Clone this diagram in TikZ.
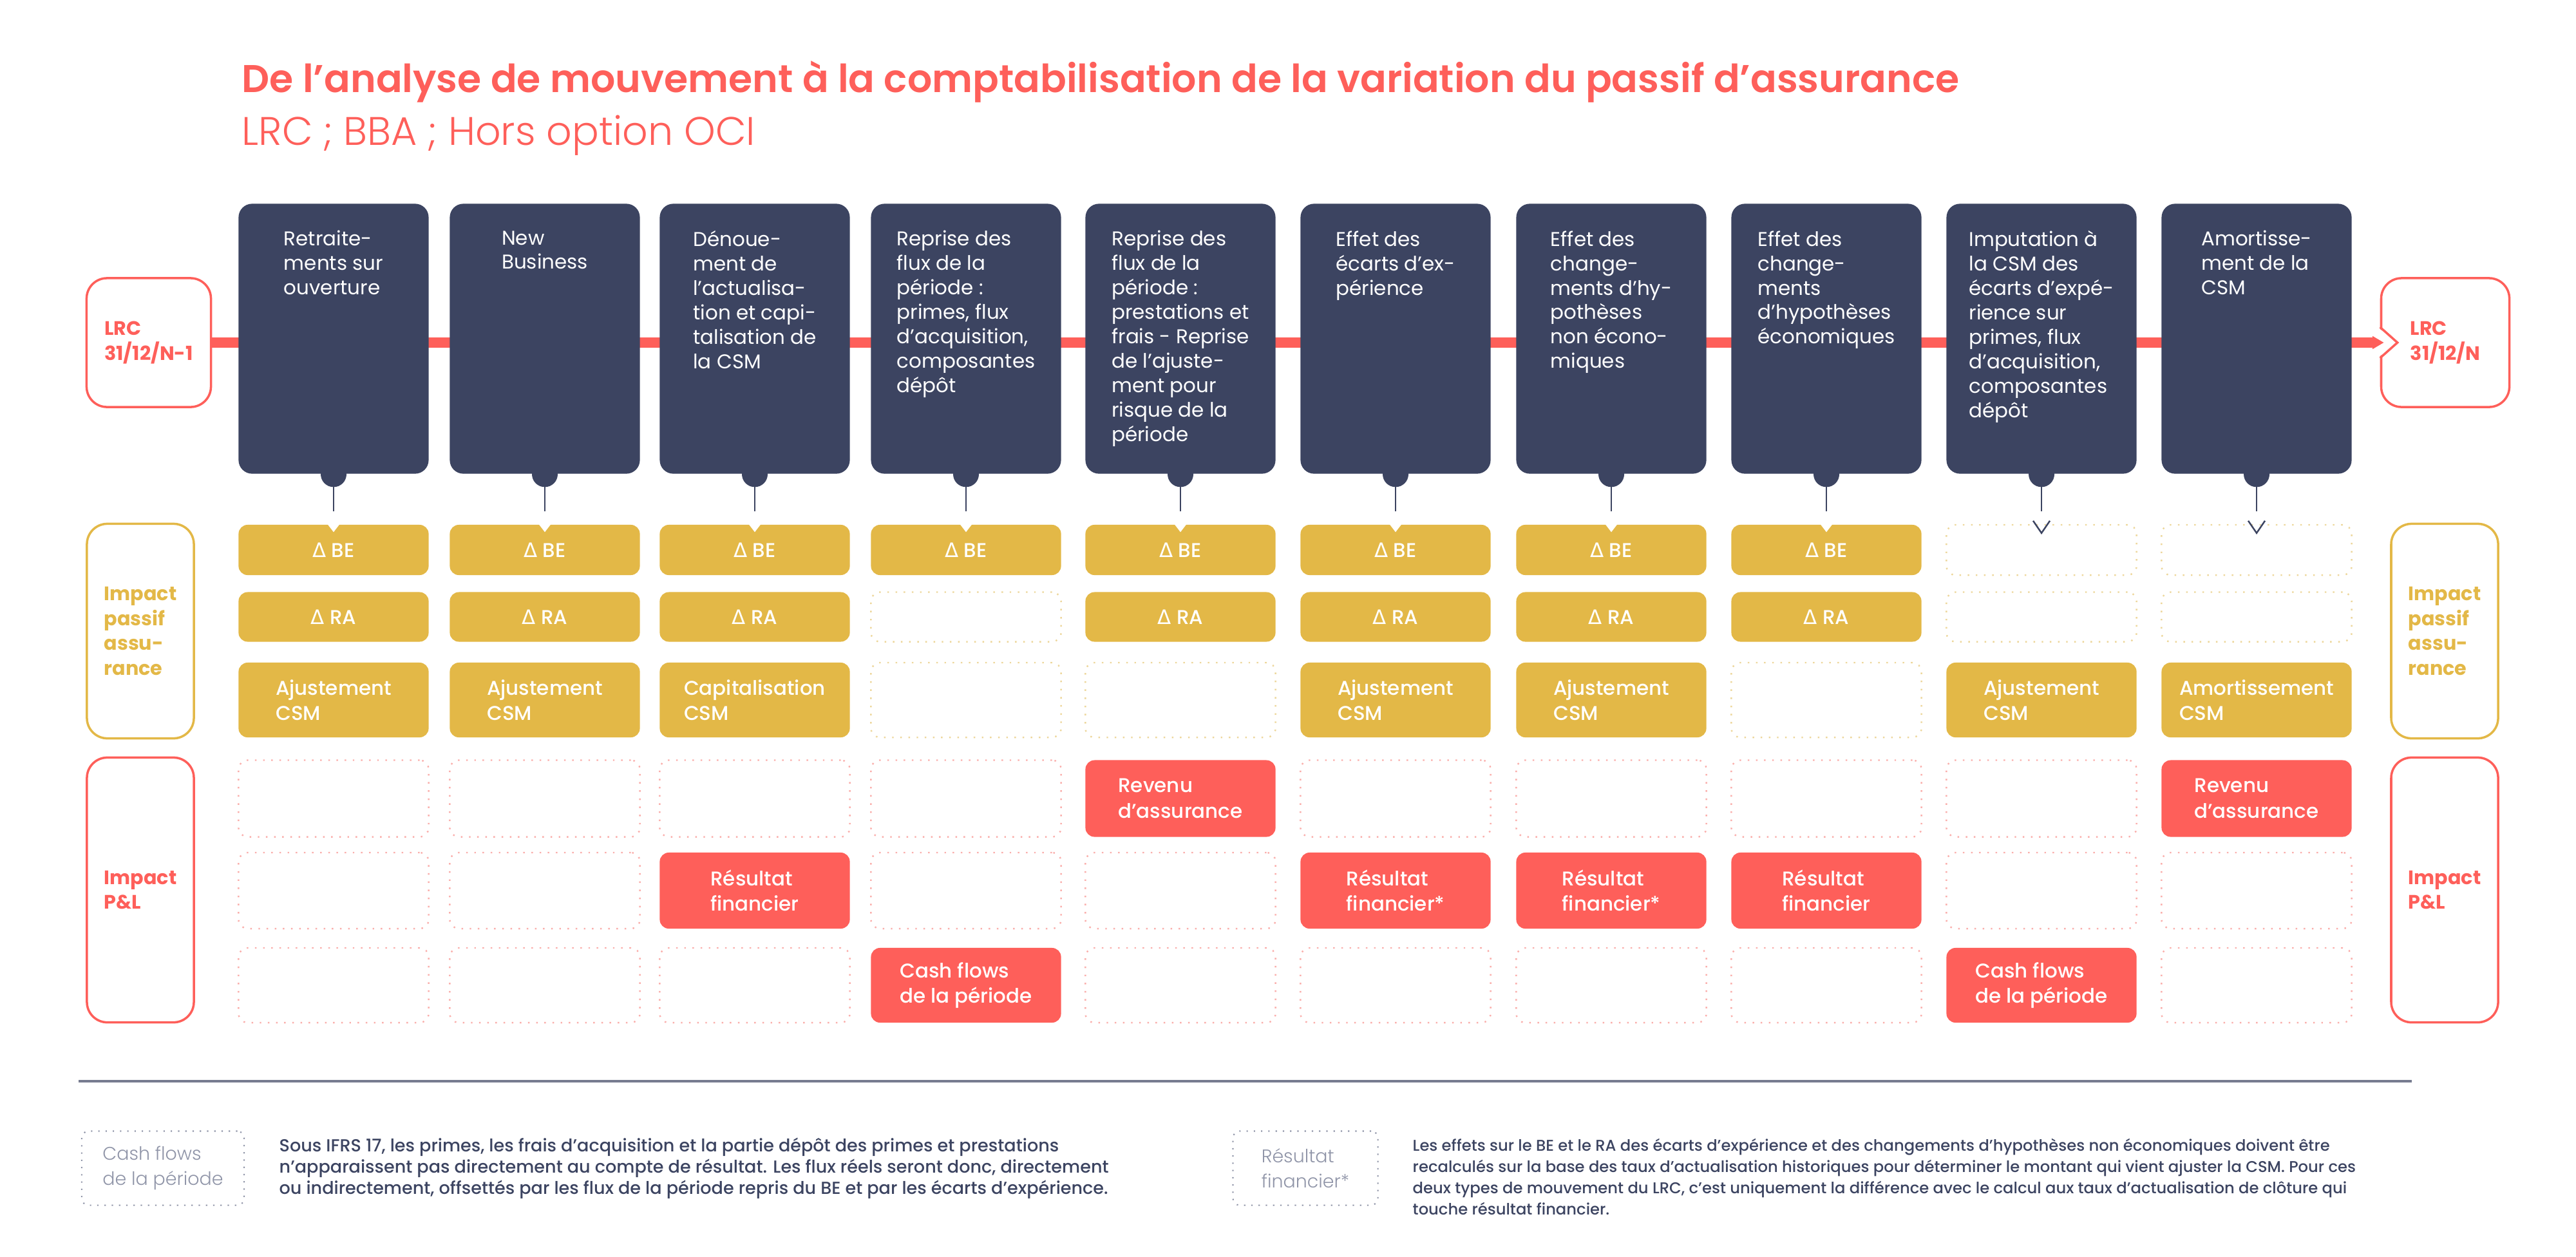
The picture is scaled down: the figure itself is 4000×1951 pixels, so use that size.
\documentclass[tikz,border=0pt]{standalone}
\usepackage{fontspec}
\setmainfont{Poppins}
\newfontfamily\fineb{Poppins Light}
\newfontfamily\moyen{Poppins Medium}
\newfontfamily\demi{Poppins SemiBold}
\newfontfamily\symb{DejaVu Sans}
\usetikzlibrary{arrows.meta,calc,positioning}

\definecolor{encre}{HTML}{3C4461}
\definecolor{ocre}{HTML}{E3B847}
\definecolor{corail}{HTML}{FE5F5A}
\definecolor{ocreclair}{HTML}{EDD79C}
\definecolor{corailclair}{HTML}{FAAFAC}
\definecolor{gris}{HTML}{9095A8}

\begin{document}
\begin{tikzpicture}[x=0.01cm,y=-0.01cm,
  etape/.style={fill=encre,rounded corners=6pt,minimum width=2.95cm,minimum height=4.19cm,inner sep=0pt},
  etapetxt/.style={align=left,text=white,inner sep=0pt,font=\fontsize{8.8}{10.8}\selectfont},
  plein/.style={rounded corners=4pt,minimum width=2.95cm,inner sep=0pt,align=left,text=white,font=\moyen\fontsize{8.8}{11.2}\selectfont},
  jaune/.style={plein,fill=ocre},
  rouge/.style={plein,fill=corail},
  vide/.style={rounded corners=4pt,minimum width=2.95cm,inner sep=0pt,dash pattern=on 0.7pt off 2.9pt,line width=0.7pt},
  videj/.style={vide,draw=ocreclair},
  vider/.style={vide,draw=corailclair},
  cote/.style={draw,line width=1pt,rounded corners=9pt,minimum width=1.66cm,inner sep=0pt,align=left,font=\bfseries\fontsize{8.6}{11}\selectfont},
  lien/.style={encre,line width=0.7pt,shorten <=0.2cm,shorten >=0.2cm},
  flux/.style={corail,line width=4.8pt,-{Triangle[length=5pt,width=5.4pt]}},
  legende/.style={draw=gris,dash pattern=on 0.6pt off 2.6pt,line width=0.6pt,rounded corners=3pt,minimum height=1.15cm,inner sep=0pt,align=left,text=gris,font=\fineb\fontsize{8.1}{11}\selectfont},
  note/.style={anchor=north west,inner sep=0pt,align=left,text=encre}]
  \useasboundingbox (0,0) rectangle (4000,1951);

  % titre
  \node[anchor=base west,inner sep=0pt,text=corail,font=\demi\fontsize{17.1}{20}\selectfont] (titre) at (375,143)
    {De l’analyse de mouvement à la comptabilisation de la variation du passif d’assurance};
  \node[anchor=base west,inner sep=0pt,text=corail,font=\fineb\fontsize{17.6}{20}\selectfont] (soustitre) at (375,225)
    {LRC ; BBA ; Hors option OCI};

  % LRC ouverture / cloture
  \node[cote,draw=corail,text=corail,minimum width=1.93cm,minimum height=2cm] (lrc0) at (231,532) {LRC\\31/12/N-1};
  \node[cote,draw=corail,text=corail,minimum width=1.99cm,minimum height=2cm] (lrcN) at (3797,532) {LRC\\31/12/N};
  \fill[white] ($(lrcN.west)+(-4,-24)$) -- ($(lrcN.west)+(27,0)$) -- ($(lrcN.west)+(-4,24)$) -- cycle;
  \draw[corail,line width=1pt] ($(lrcN.west)+(0,-24)$) -- ($(lrcN.west)+(27,0)$) -- ($(lrcN.west)+(0,24)$);
  \draw[flux,shorten >=-0.06cm] (lrc0) -- (lrcN);

  % etapes du mouvement
  \foreach \c/\x/\t in {1/518/{Retraite-\\ments sur\\ouverture},
      2/846/{New\\Business},
      3/1172/{Dénoue-\\ment de\\l’actualisa-\\tion et capi-\\talisation de\\la CSM},
      4/1500/{Reprise des\\flux de la\\période :\\primes, flux\\d’acquisition,\\composantes\\dépôt},
      5/1833/{Reprise des\\flux de la\\période :\\prestations et\\frais - Reprise\\de l’ajuste-\\ment pour\\risque de la\\période},
      6/2167/{Effet des\\écarts d’ex-\\périence},
      7/2502/{Effet des\\change-\\ments d’hy-\\pothèses\\non écono-\\miques},
      8/2836/{Effet des\\change-\\ments\\d’hypothèses\\économiques},
      9/3170/{Imputation à\\la CSM des\\écarts d’expé-\\rience sur\\primes, flux\\d’acquisition,\\composantes\\dépôt},
      10/3504/{Amortisse-\\ment de la\\CSM}}
  {
    \node[etape] (e\c) at (\x,526) {};
    \fill[encre] (e\c.south) circle (0.2cm);
    \node[etapetxt,below=0.42cm of e\c.north] (t\c) {\t};
  }

  % impact passif
  \foreach \c/\x in {1/518,2/846,3/1172,4/1500,5/1833,6/2167,7/2502,8/2836}
    \node[jaune,minimum height=0.78cm] (b\c) at (\x,854) {{\symb Δ} BE};
  \foreach \c/\x in {9/3170,10/3504}
    \node[videj,minimum height=0.78cm] (b\c) at (\x,854) {};
  \foreach \c/\x in {1/518,2/846,3/1172,5/1833,6/2167,7/2502,8/2836}
    \node[jaune,minimum height=0.77cm] (r\c) at (\x,958) {{\symb Δ} RA};
  \foreach \c/\x in {4/1500,9/3170,10/3504}
    \node[videj,minimum height=0.77cm] (r\c) at (\x,958) {};
  \foreach \c/\x/\t in {1/518/Ajustement,2/846/Ajustement,3/1172/Capitalisation,6/2167/Ajustement,
      7/2502/Ajustement,9/3170/Ajustement,10/3504/Amortissement}
    \node[jaune,minimum height=1.16cm] (a\c) at (\x,1087) {\t\\CSM};
  \foreach \c/\x in {4/1500,5/1833,8/2836}
    \node[videj,minimum height=1.16cm] (a\c) at (\x,1087) {};

  % liens etape -> BE
  \foreach \c in {1,...,10}
    \draw[lien] (e\c) -- (b\c);
  \foreach \c in {1,...,8}
    \fill[white] ($(b\c.north)+(-10,-1)$) -- ($(b\c.north)+(10,-1)$) -- ($(b\c.north)+(0,12)$) -- cycle;
  \foreach \c in {9,10}
    \draw[encre,line width=0.7pt] ($(b\c.north)+(-13,-5)$) -- ($(b\c.north)+(0,14)$) -- ($(b\c.north)+(13,-5)$);

  % impact P&L
  \foreach \c/\x in {5/1833,10/3504}
    \node[rouge,minimum height=1.19cm] (p\c) at (\x,1240) {Revenu\\d’assurance};
  \foreach \c/\x in {1/518,2/846,3/1172,4/1500,6/2167,7/2502,8/2836,9/3170}
    \node[vider,minimum height=1.19cm] (p\c) at (\x,1240) {};
  \foreach \c/\x/\t in {3/1172/financier,6/2167/financier*,7/2502/financier*,8/2836/financier}
    \node[rouge,minimum height=1.18cm] (f\c) at (\x,1383) {Résultat\\\t};
  \foreach \c/\x in {1/518,2/846,4/1500,5/1833,9/3170,10/3504}
    \node[vider,minimum height=1.18cm] (f\c) at (\x,1383) {};
  \foreach \c/\x in {4/1500,9/3170}
    \node[rouge,minimum height=1.16cm] (k\c) at (\x,1530) {Cash flows\\de la période};
  \foreach \c/\x in {1/518,2/846,3/1172,5/1833,6/2167,7/2502,8/2836,10/3504}
    \node[vider,minimum height=1.16cm] (k\c) at (\x,1530) {};

  % cotes
  \foreach \s/\x in {0/218,1/3796}
  {
    \node[cote,draw=ocre,text=ocre,minimum height=3.33cm] (pa\s) at (\x,980) {Impact\\passif\\assu-\\rance};
    \node[cote,draw=corail,text=corail,minimum height=4.11cm] (pl\s) at (\x,1382) {Impact\\P\&L};
  }

  % notes
  \draw[encre!70,line width=0.9pt] (122,1679) -- (3745,1679);
  \node[legende,minimum width=2.52cm] (lg1) at (253,1814) {Cash flows\\de la période};
  \node[note,font=\moyen\fontsize{7.7}{9.4}\selectfont] (n1) at (433,1766)
    {Sous IFRS 17, les primes, les frais d’acquisition et la partie dépôt des primes et prestations\\
     n’apparaissent pas directement au compte de résultat. Les flux réels seront donc, directement\\
     ou indirectement, offsettés par les flux de la période repris du BE et par les écarts d’expérience.};
  \node[legende,minimum width=2.25cm] (lg2) at (2027,1814) {Résultat\\financier*};
  \node[note,font=\moyen\fontsize{6.9}{9.4}\selectfont] (n2) at (2193,1767)
    {Les effets sur le BE et le RA des écarts d’expérience et des changements d’hypothèses non économiques doivent être\\
     recalculés sur la base des taux d’actualisation historiques pour déterminer le montant qui vient ajuster la CSM. Pour ces\\
     deux types de mouvement du LRC, c’est uniquement la différence avec le calcul aux taux d’actualisation de clôture qui\\
     touche résultat financier.};
\end{tikzpicture}
\end{document}
